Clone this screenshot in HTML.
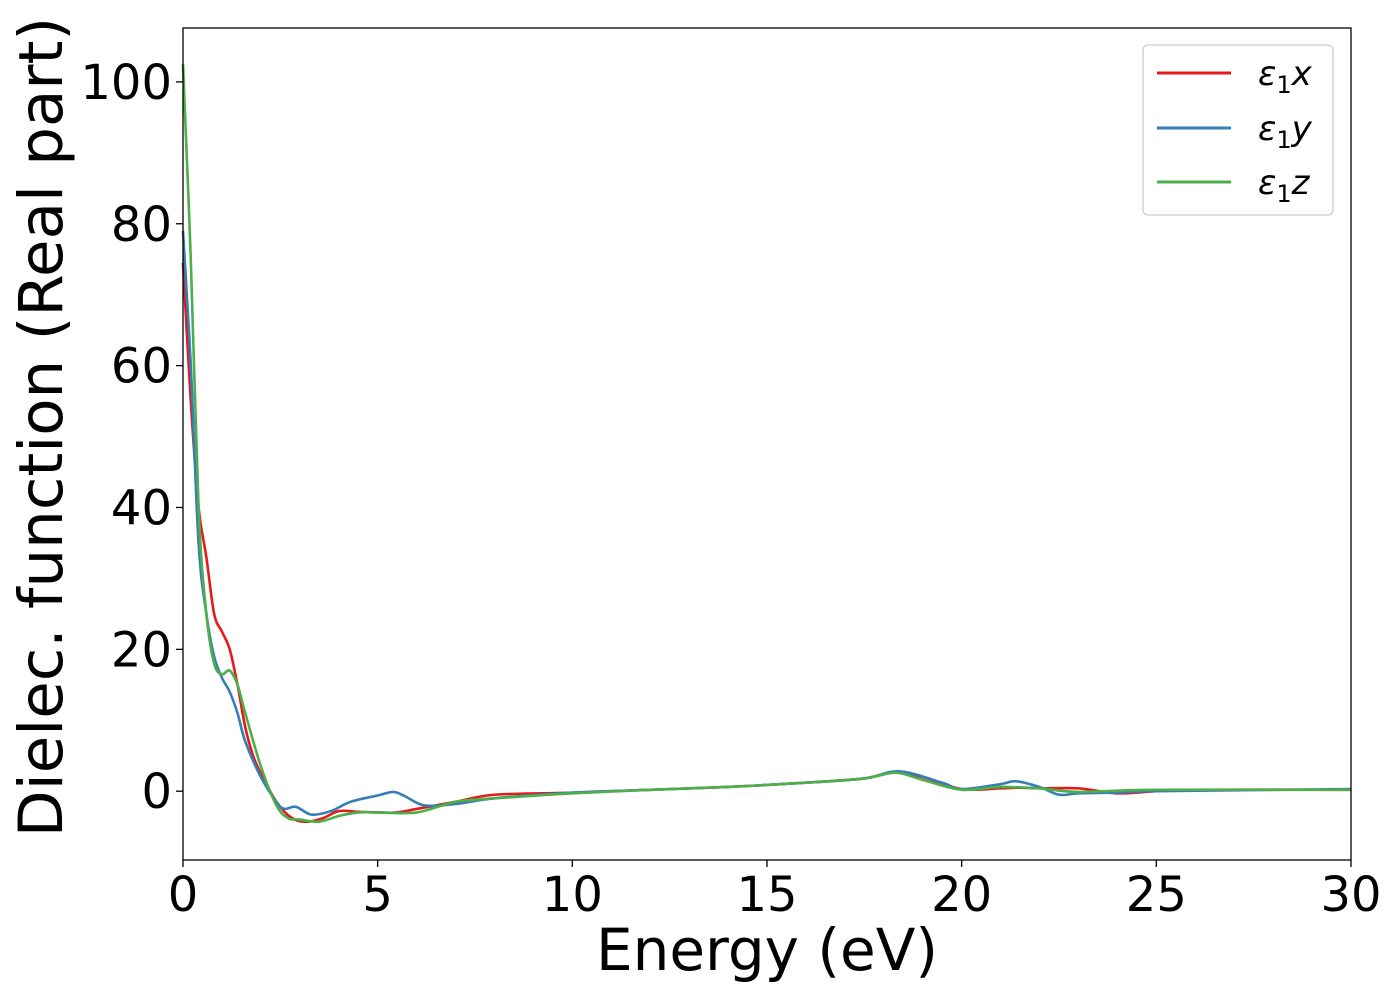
<!DOCTYPE html>
<html><head><meta charset="utf-8"><style>
body{margin:0;background:#fff}
svg{display:block;font-family:"DejaVu Sans","Liberation Sans",sans-serif}
</style></head><body>
<svg id="chart" width="1400" height="1000" viewBox="0 0 1400 1000">
<g id="marks"></g>
<g id="axes"></g>
<rect x="183" y="28" width="1168" height="832" fill="none" stroke="#000" stroke-width="1.3"/>
<text x="767" y="970" font-size="58" text-anchor="middle">Energy (eV)</text>
<text transform="translate(62,427) rotate(-90)" font-size="61" text-anchor="middle">Dielec. function (Real part)</text>
<g>
<rect x="1143" y="45" width="190" height="170" rx="5" fill="#fff" stroke="#ccc" stroke-width="1.3"/>
<line x1="1157" y1="73" x2="1231" y2="73" stroke="#e41a1c" stroke-width="3"/>
<text x="1258" y="85" font-size="34" font-style="italic">ε<tspan font-style="normal" font-size="24" dy="8">1</tspan><tspan dy="-8">x</tspan></text>
<line x1="1157" y1="128" x2="1231" y2="128" stroke="#377eb8" stroke-width="3"/>
<text x="1258" y="140" font-size="34" font-style="italic">ε<tspan font-style="normal" font-size="24" dy="8">1</tspan><tspan dy="-8">y</tspan></text>
<line x1="1157" y1="182" x2="1231" y2="182" stroke="#4daf4a" stroke-width="3"/>
<text x="1258" y="194" font-size="34" font-style="italic">ε<tspan font-style="normal" font-size="24" dy="8">1</tspan><tspan dy="-8">z</tspan></text>
</g>
</svg>
<script>
const xTicks=[0,5,10,15,20,25,30];
const yTicks=[0,20,40,60,80,100];
const redE=[0,0.2,0.4,0.6,0.8,1.0,1.2,1.4,1.6,1.8,2.0,2.4,2.8,3.2,3.6,4.0,4.5,5,5.5,6,7,8,10,12,14,16,17.5,18.3,19,20,21,21.5,22,23,24,25,26,30];
const redV=[74.5,55,40,33,25,22.5,20,15,9,5,2.5,-1.5,-3.8,-4.3,-3.8,-2.8,-2.9,-3,-3,-2.5,-1.5,-0.5,-0.2,0.2,0.6,1.2,1.8,2.7,2,0.3,0.4,0.5,0.4,0.4,-0.3,0,0.2,0.2];
const blueE=[0,0.2,0.4,0.6,0.8,1.0,1.2,1.4,1.6,2.0,2.4,2.6,2.9,3.3,3.8,4.3,5,5.4,5.7,6.2,7,8,10,12,14,16,17.5,18.4,19.5,20,21,21.4,22,22.5,23,24,25,30];
const blueV=[79,60,35,25,19,16,14,11,7,2,-1.5,-2.5,-2.2,-3.3,-2.8,-1.5,-0.6,-0.1,-0.7,-2,-1.8,-1.0,-0.2,0.2,0.6,1.2,1.8,2.8,1.2,0.3,1.0,1.4,0.6,-0.5,-0.3,-0.2,0,0.3];
const greenE=[0,0.2,0.4,0.6,0.8,1.0,1.2,1.4,1.6,2.0,2.4,2.7,3.0,3.5,4.0,4.5,5,6,7,8,10,12,14,16,17.5,18.3,19,20,21,22,23,25,30];
const greenV=[102.5,75,40,25,18,16.5,17,15,11,3.5,-2,-3.8,-4,-4.3,-3.5,-3,-3,-3,-1.5,-1,-0.3,0.2,0.6,1.2,1.8,2.6,1.6,0.2,0.6,0.4,-0.1,0.2,0.2];
const X0=183,X1=1351,Y0=860,Y1=28,xmin=0,xmax=30,ymin=-9.7,ymax=107.6;
const sx=v=>X0+(v-xmin)/(xmax-xmin)*(X1-X0);
const sy=v=>Y0-(v-ymin)/(ymax-ymin)*(Y0-Y1);
const NS="http://www.w3.org/2000/svg";
const axes=document.getElementById('axes'),marks=document.getElementById('marks');
function path(E,V){
  const p=E.map((e,i)=>[sx(e),sy(V[i])]);
  let d=`M${p[0][0]},${p[0][1]}`;
  for(let i=0;i<p.length-1;i++){
    const a=p[i-1]||p[i],b=p[i],c=p[i+1],e=p[i+2]||c;
    d+=` C${b[0]+(c[0]-a[0])/6},${b[1]+(c[1]-a[1])/6} ${c[0]-(e[0]-b[0])/6},${c[1]-(e[1]-b[1])/6} ${c[0]},${c[1]}`;
  }
  return d;
}
[[redE,redV,'#e41a1c','line-eps1-x'],[blueE,blueV,'#377eb8','line-eps1-y'],[greenE,greenV,'#4daf4a','line-eps1-z']].forEach(s=>{
  const el=document.createElementNS(NS,'path');
  el.setAttribute('d',path(s[0],s[1]));
  el.setAttribute('fill','none');el.setAttribute('stroke',s[2]);el.setAttribute('stroke-width','2.6');
  
  
  marks.appendChild(el);
});
xTicks.forEach(t=>{
  const l=document.createElementNS(NS,'line');
  l.setAttribute('x1',sx(t));l.setAttribute('x2',sx(t));l.setAttribute('y1',Y0);l.setAttribute('y2',Y0+7);l.setAttribute('stroke','#000');l.setAttribute('stroke-width','1.3');
  
  
  axes.appendChild(l);
  const tx=document.createElementNS(NS,'text');
  tx.setAttribute('x',sx(t));tx.setAttribute('y',Y0+51);tx.setAttribute('font-size','48');tx.setAttribute('text-anchor','middle');
  tx.textContent=t;
  
  
  axes.appendChild(tx);
});
yTicks.forEach(t=>{
  const l=document.createElementNS(NS,'line');
  l.setAttribute('x1',X0-7);l.setAttribute('x2',X0);l.setAttribute('y1',sy(t));l.setAttribute('y2',sy(t));l.setAttribute('stroke','#000');l.setAttribute('stroke-width','1.3');
  
  
  axes.appendChild(l);
  const tx=document.createElementNS(NS,'text');
  tx.setAttribute('x',X0-11);tx.setAttribute('y',sy(t)+17);tx.setAttribute('font-size','48');tx.setAttribute('text-anchor','end');
  tx.textContent=t;
  
  
  axes.appendChild(tx);
});
</script>
</body></html>
